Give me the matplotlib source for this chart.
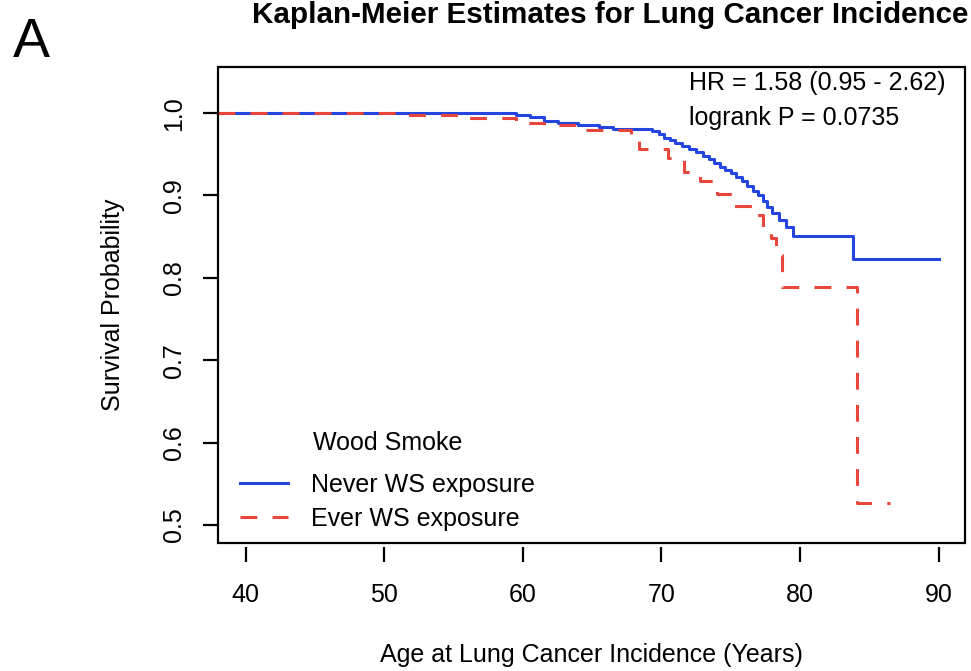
import matplotlib
matplotlib.use("Agg")
import matplotlib.pyplot as plt
from matplotlib.patches import Rectangle

plt.rcParams['font.family'] = ['Liberation Sans', 'DejaVu Sans']

# ---- data ----
never_t = [38.0, 59.5, 60.5, 61.5, 62.5, 64.0, 65.5, 66.5, 69.3, 69.8, 70.2, 70.6,
           71.0, 71.5, 72.0, 72.5, 73.0, 73.4, 73.8, 74.2, 74.6, 75.0, 75.4, 75.8,
           76.2, 76.6, 77.0, 77.3, 77.6, 78.0, 78.5, 79.0, 79.5, 83.8, 90.0]
never_s = [1.0, 0.998, 0.995, 0.990, 0.988, 0.985, 0.983, 0.981, 0.978, 0.975, 0.970, 0.967,
           0.964, 0.960, 0.957, 0.953, 0.948, 0.944, 0.940, 0.935, 0.931, 0.927, 0.922, 0.917,
           0.912, 0.906, 0.900, 0.893, 0.886, 0.879, 0.870, 0.862, 0.851, 0.823, 0.823]

ever_t = [38.0, 51.5, 55.5, 59.5, 61.5, 63.9, 67.8, 68.4, 70.5, 71.6, 72.8, 74.0,
          75.2, 76.6, 77.3, 77.9, 78.3, 78.7, 84.1, 86.5]
ever_s = [1.0, 0.998, 0.994, 0.988, 0.985, 0.979, 0.968, 0.956, 0.945, 0.929, 0.917, 0.902,
          0.887, 0.876, 0.862, 0.848, 0.828, 0.789, 0.527, 0.527]

x_ticks = [40, 50, 60, 70, 80, 90]
y_ticks = [0.5, 0.6, 0.7, 0.8, 0.9, 1.0]
y_labels = ["0.5", "0.6", "0.7", "0.8", "0.9", "1.0"]

blue = "#2545e0"
red = "#e8453c"

fig = plt.figure(figsize=(9.71, 6.71), dpi=100)
ax = fig.add_axes([0.2245, 0.1908, 0.7693, 0.7093])

ax.step(never_t, never_s, where="post", color=blue, lw=2.2, label="Never WS exposure")
ax.step(ever_t, ever_s, where="post", color=red, lw=2.2, linestyle=(0, (5.5, 5)),
        label="Ever WS exposure")

ax.set_xlim(38.0, 91.9)
ax.set_ylim(0.478, 1.056)

# box frame drawn separately so the x ticks can sit a little below it
for sp in ax.spines.values():
    sp.set_visible(False)
ax.spines['bottom'].set_position(('outward', 3))
ax.add_patch(Rectangle((0, 0), 1, 1, transform=ax.transAxes, fill=False,
                       lw=1.6, ec="black", clip_on=False, zorder=5))

ax.set_xticks(x_ticks)
ax.set_yticks(y_ticks)
ax.set_yticklabels(y_labels)
ax.tick_params(axis='both', direction='out', length=11, width=1.6, labelsize=18)
ax.tick_params(axis='x', pad=15)
ax.tick_params(axis='y', pad=12)
for lbl in ax.get_yticklabels():
    lbl.set_rotation(90)
    lbl.set_va("center")

ax.set_xlabel("Age at Lung Cancer Incidence (Years)", fontsize=18, labelpad=26)
ax.set_ylabel("Survival Probability", fontsize=18, labelpad=27)

ax.text(0.63, 0.966, "HR = 1.58 (0.95 - 2.62)", transform=ax.transAxes,
        fontsize=18, va="center", ha="left")
ax.text(0.63, 0.892, "logrank P = 0.0735", transform=ax.transAxes,
        fontsize=18, va="center", ha="left")

leg = ax.legend(loc="lower left", bbox_to_anchor=(0.0295, 0.026), frameon=False,
                fontsize=18, title="Wood Smoke", title_fontsize=18,
                handlelength=1.9, handletextpad=0.95, labelspacing=0.4,
                borderpad=0, borderaxespad=0)
leg._legend_box.sep = 12.6

fig.text(610 / 971, 1 - 15 / 671, "Kaplan-Meier Estimates for Lung Cancer Incidence",
         fontsize=21.3, fontweight="bold", ha="center", va="center")
fig.text(31 / 971, 1 - 43 / 671, "A", fontsize=40, ha="center", va="center")

fig.savefig("out.png", dpi=100)
